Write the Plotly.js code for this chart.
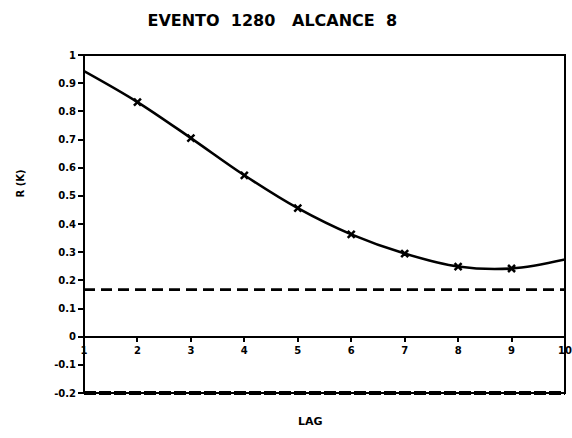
<!DOCTYPE html>
<html>
<head>
<meta charset="utf-8">
<script src="https://cdn.plot.ly/plotly-3.0.1.min.js"></script>
<style>html,body{margin:0;padding:0;background:#fff;}#chart{width:572px;height:438px;}</style>
</head>
<body>
<div id="chart"></div>
<script>
// Data
const lags = [1, 2, 3, 4, 5, 6, 7, 8, 9, 10];
const rk = [0.943, 0.833, 0.705, 0.573, 0.456, 0.363, 0.295, 0.249, 0.242, 0.274];
const markerLags = [2, 3, 4, 5, 6, 7, 8, 9];
const markerRk = [0.833, 0.705, 0.573, 0.456, 0.363, 0.295, 0.249, 0.242];
const upperLimit = 0.167;
const lowerLimit = -0.2;
const yRange = [-0.2, 1];
const xTicks = [1, 2, 3, 4, 5, 6, 7, 8, 9, 10];
const yTicks = [1, 0.9, 0.8, 0.7, 0.6, 0.5, 0.4, 0.3, 0.2, 0.1, 0, -0.1, -0.2];
const yTickText = ['1', '0.9', '0.8', '0.7', '0.6', '0.5', '0.4', '0.3', '0.2', '0.1', '0', '-0.1', '-0.2'];

const font = {family: 'DejaVu Sans, Liberation Sans, sans-serif', color: '#000', weight: 'bold'};
const lowerPaper = (lowerLimit - yRange[0]) / (yRange[1] - yRange[0]);

const traces = [
  {x: lags, y: rk, mode: 'lines', line: {color: '#000', width: 2.6, shape: 'spline'}, hoverinfo: 'skip'},
  {x: markerLags, y: markerRk, mode: 'markers', marker: {symbol: 'x-thin', size: 7, line: {color: '#000', width: 2.5}}, hoverinfo: 'skip'},
  {x: [lags[0], lags[lags.length - 1]], y: [upperLimit, upperLimit], mode: 'lines', line: {color: '#000', width: 2.6, dash: '11px,6px'}, hoverinfo: 'skip'}
];

const layout = {
  width: 572, height: 438,
  margin: {l: 84, r: 7, t: 55, b: 45},
  paper_bgcolor: '#fff', plot_bgcolor: '#fff',
  showlegend: false,
  title: {text: 'EVENTO  1280   ALCANCE  8', x: 0.476, xanchor: 'center', y: 0.953, yanchor: 'middle', font: Object.assign({}, font, {size: 16})},
  xaxis: {
    range: [1, 10], tickvals: xTicks, ticktext: xTicks.map(String),
    anchor: 'free', position: 1 / 6,
    showgrid: false, showline: false, zeroline: false,
    ticks: 'outside', ticklen: 4, tickwidth: 2, tickcolor: '#000',
    tickfont: Object.assign({}, font, {size: 10}),
    title: {text: ''}
  },
  yaxis: {
    range: yRange, tickvals: yTicks, ticktext: yTickText,
    showgrid: false, showline: false, zeroline: true, zerolinecolor: '#000', zerolinewidth: 2,
    ticks: 'outside', ticklen: 5, tickwidth: 2, tickcolor: '#000',
    tickfont: Object.assign({}, font, {size: 10}),
    title: {text: ''}
  },
  shapes: [
    {type: 'rect', xref: 'paper', yref: 'paper', x0: 0, x1: 1, y0: 0, y1: 1, line: {color: '#000', width: 2}},
    {type: 'line', xref: 'paper', yref: 'paper', x0: 0, x1: 1, y0: lowerPaper, y1: lowerPaper, line: {color: '#000', width: 4, dash: '12px,3px'}}
  ],
  annotations: [
    {text: 'LAG', xref: 'paper', yref: 'paper', x: 0.47, y: -0.085, yanchor: 'middle', showarrow: false, font: Object.assign({}, font, {size: 11})},
    {text: 'R (K)', xref: 'paper', yref: 'paper', x: -0.133, y: 0.62, xanchor: 'center', yanchor: 'middle', textangle: -90, showarrow: false, font: Object.assign({}, font, {size: 10})}
  ]
};

Plotly.newPlot('chart', traces, layout, {staticPlot: true, displayModeBar: false});
</script>
</body>
</html>
